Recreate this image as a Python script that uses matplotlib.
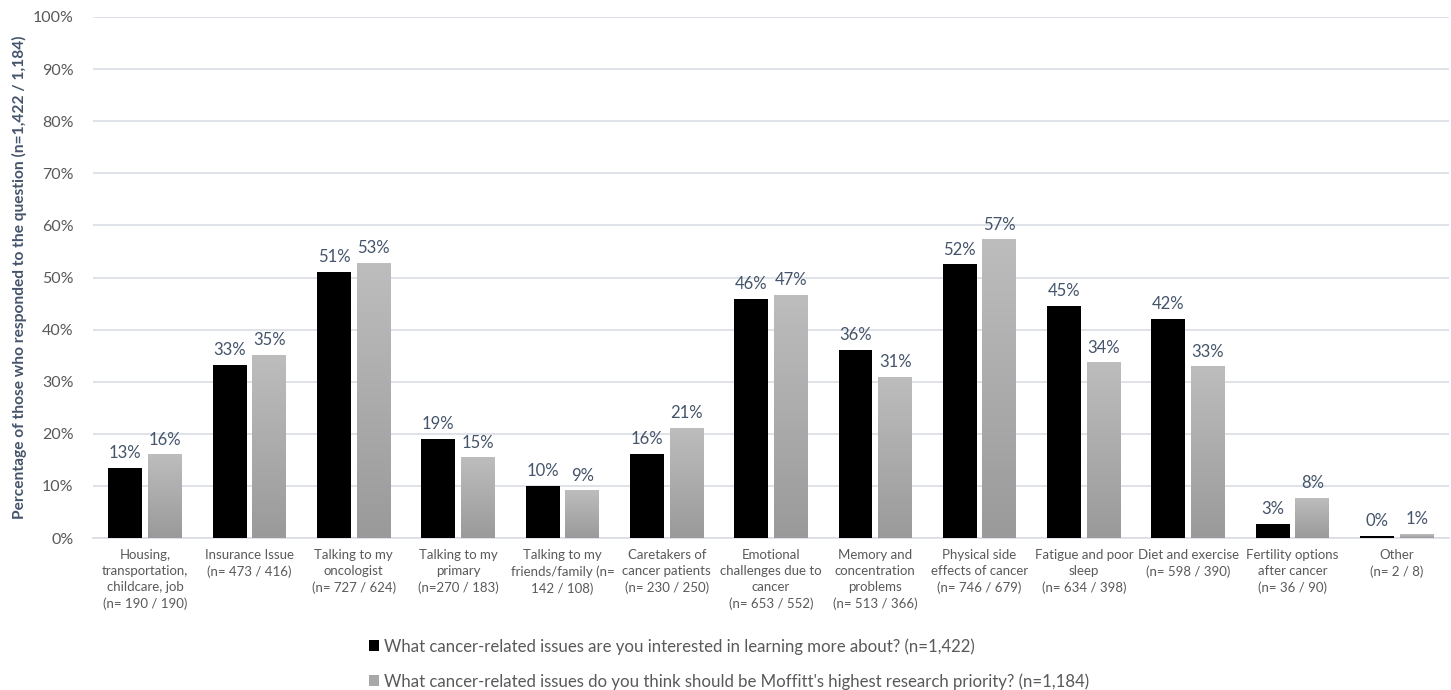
import matplotlib
matplotlib.use("Agg")
import matplotlib.pyplot as plt
import numpy as np
from matplotlib.patches import Patch

plt.rcParams['font.family'] = ['Lato', 'DejaVu Sans']

categories = [
    "Housing,\ntransportation,\nchildcare, job\n(n= 190 / 190)",
    "Insurance Issue\n(n= 473 / 416)",
    "Talking to my\noncologist\n(n= 727 / 624)",
    "Talking to my\nprimary\n(n=270 / 183)",
    "Talking to my\nfriends/family (n=\n142 / 108)",
    "Caretakers of\ncancer patients\n(n= 230 / 250)",
    "Emotional\nchallenges due to\ncancer\n(n= 653 / 552)",
    "Memory and\nconcentration\nproblems\n(n= 513 / 366)",
    "Physical side\neffects of cancer\n(n= 746 / 679)",
    "Fatigue and poor\nsleep\n(n= 634 / 398)",
    "Diet and exercise\n(n= 598 / 390)",
    "Fertility options\nafter cancer\n(n= 36 / 90)",
    "Other\n(n= 2 / 8)",
]

# share of respondents (%) for each question
interested_pct = [13.4, 33.3, 51.1, 19.0, 10.0, 16.2, 45.9, 36.1, 52.5, 44.6, 42.1, 2.7, 0.3]
priority_pct = [16.0, 35.1, 52.7, 15.4, 9.1, 21.1, 46.6, 30.9, 57.3, 33.6, 32.9, 7.6, 0.7]

series_labels = [
    "What cancer-related issues are you interested in learning more about? (n=1,422)",
    "What cancer-related issues do you think should be Moffitt's highest research priority? (n=1,184)",
]

text_col = "#44546A"
tick_col = "#595959"
grid_col = "#D9DDE5"

fig = plt.figure(figsize=(14.51, 6.90), dpi=100)
ax = fig.add_axes([93 / 1451, 1 - 538 / 690, (1449 - 93) / 1451, (538 - 17) / 690])

x = np.arange(len(categories))
w = 0.325
off = 0.19

ax.bar(x - off, interested_pct, width=w, color="black", zorder=3)

# grey bars with a vertical gradient (light top, darker bottom)
grad = np.linspace(0, 1, 256).reshape(-1, 1)
cmap = matplotlib.colors.LinearSegmentedColormap.from_list("g", ["#9A9A9A", "#BDBDBD"])
for xi, v in zip(x, priority_pct):
    ax.imshow(grad, extent=[xi + off - w / 2, xi + off + w / 2, 0, v], origin="lower",
              cmap=cmap, aspect="auto", zorder=3, interpolation="bilinear")

for xi, v in zip(x, interested_pct):
    ax.annotate(f"{v:.0f}%", (xi - off, v), xytext=(0, 5), textcoords="offset points",
                ha="center", va="bottom", fontsize=12, color=text_col)
for xi, v in zip(x, priority_pct):
    ax.annotate(f"{v:.0f}%", (xi + off, v), xytext=(0, 5), textcoords="offset points",
                ha="center", va="bottom", fontsize=12, color=text_col)

ax.set_xlim(-0.5, len(categories) - 0.5)
ax.set_ylim(0, 100)
ax.set_yticks(np.arange(0, 101, 10))
ax.set_yticklabels([f"{t}%" for t in range(0, 101, 10)], fontsize=11.5, color=tick_col)
ax.set_xticks(x)
ax.set_xticklabels(categories, fontsize=9.5, color=tick_col, linespacing=1.4, va="top")
ax.tick_params(axis="both", length=0)
ax.tick_params(axis="y", pad=14)
ax.tick_params(axis="x", pad=8)

ax.grid(axis="y", color=grid_col, linewidth=1.2, zorder=0)
for s in ["top", "right", "left"]:
    ax.spines[s].set_visible(False)
ax.spines["bottom"].set_color(grid_col)
ax.spines["bottom"].set_linewidth(1.2)

ax.set_ylabel("Percentage of those who responded to the question (n=1,422 / 1,184)",
              fontsize=11.2, fontweight="bold", color=text_col)
ax.yaxis.set_label_coords(-0.049, 0.5)

handles = [Patch(facecolor="black"), Patch(facecolor="#A8A8A8")]
fig.legend(handles, series_labels, loc="upper left", bbox_to_anchor=(369 / 1451, 1 - 638 / 690),
           frameon=False, fontsize=12.1, handlelength=0.6, handleheight=0.6, handletextpad=0.3,
           labelspacing=1.1, labelcolor=tick_col, borderaxespad=0, borderpad=0)

fig.savefig("out.png", dpi=100)
